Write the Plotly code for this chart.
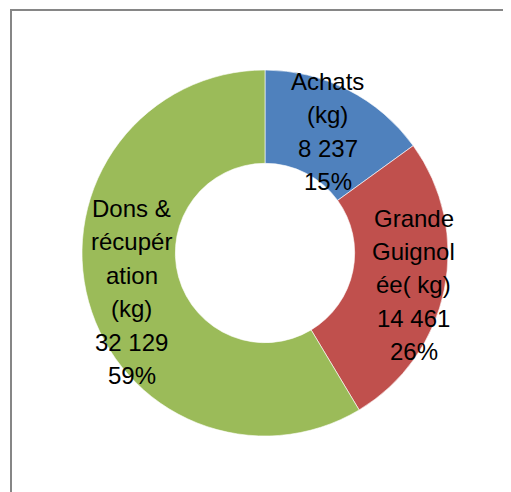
import plotly.graph_objects as go

# Data
categories = ["Achats (kg)", "Grande Guignolée( kg)", "Dons & récupération (kg)"]
label_lines = [["Achats", "(kg)"], ["Grande", "Guignol", "ée( kg)"], ["Dons &", "récupér", "ation", "(kg)"]]
values = [8237, 14461, 32129]
colors = ["#4F81BD", "#C0504D", "#9BBB59"]

W, H = 511, 492
OFF = 8  # page body margin in screenshot pixels
total = sum(values)


def px(sx):
    return (sx - OFF) / W


def py(sy):
    return 1 - (sy - OFF) / H


fig = go.Figure(go.Pie(
    labels=categories,
    values=values,
    hole=0.49,
    sort=False,
    direction="clockwise",
    rotation=0,
    marker=dict(colors=colors, line=dict(color="white", width=0.6)),
    textinfo="none",
    hoverinfo="label+value+percent",
    showlegend=False,
    domain=dict(x=[px(82), px(448)], y=[py(436), py(70)]),
))

# label placement: (centre x, first line centre y, line step) in screenshot pixels
label_pos = [(327.5, 81.5, 33.3), (413.5, 218.5, 33.2), (131.5, 208.5, 33.4)]
for lines, v, (cx, cy, step) in zip(label_lines, values, label_pos):
    pct = round(100 * v / total)
    num = f"{v:,}".replace(",", " ")
    all_lines = lines + [num, f"{pct}%"]
    for i, t in enumerate(all_lines):
        fig.add_annotation(
            x=px(cx), y=py(cy + i * step), xref="paper", yref="paper",
            text=t, showarrow=False, xanchor="center", yanchor="middle",
            font=dict(family="Liberation Sans, Arial, sans-serif", size=24, color="black"),
        )

# outer chart border
fig.add_shape(type="rect", xref="paper", yref="paper",
              x0=px(11), x1=1.2, y0=-0.2, y1=py(10),
              line=dict(color="#868686", width=2), fillcolor="rgba(0,0,0,0)")

fig.update_layout(
    width=W, height=H,
    margin=dict(l=0, r=0, t=0, b=0),
    paper_bgcolor="white", plot_bgcolor="white",
)

fig.write_html("out.html")
